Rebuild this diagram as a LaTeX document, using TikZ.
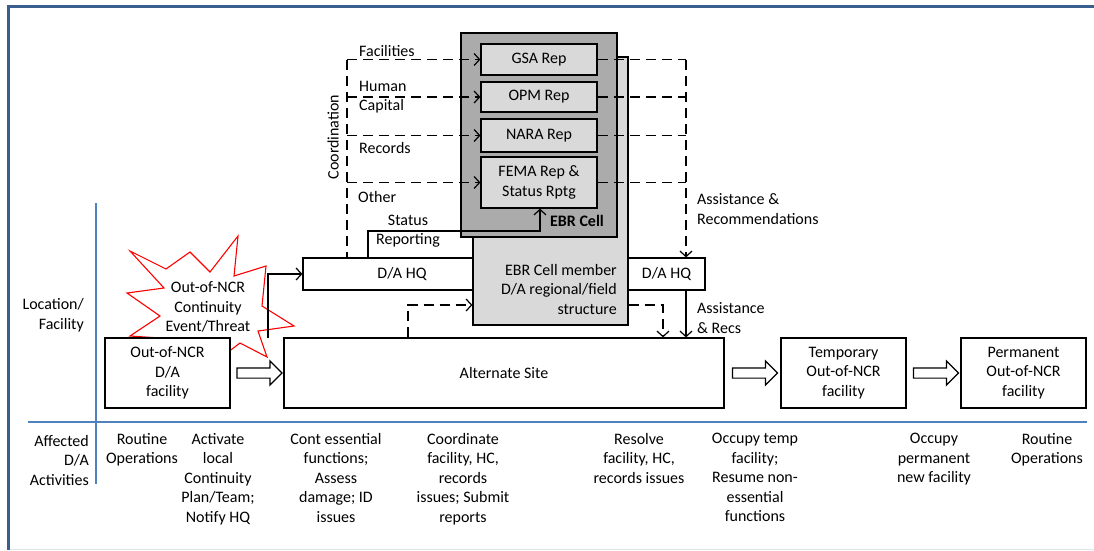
\documentclass[tikz,border=0pt]{standalone}
\usepackage{fontspec}
\setmainfont{Carlito}
\usetikzlibrary{arrows.meta,shapes.arrows,calc}

\definecolor{frameblue}{HTML}{3A5F8F}
\definecolor{lineblue}{HTML}{4F81BD}
\definecolor{cellgray}{HTML}{ABABAB}
\definecolor{repgray}{HTML}{D9D9D9}
\newcommand{\dia}{\fontsize{16}{19.5}\selectfont}

\tikzset{
  every node/.style={font=\dia},
  box/.style={draw, fill=white, line width=1.2pt, inner sep=0pt, align=center},
  repbox/.style={box, fill=repgray, minimum width=116pt},
  dashline/.style={line width=1.2pt, dash pattern=on 10pt off 6pt},
  tip/.style={-{Straight Barb[length=5.5pt,width=12pt,line width=1.2pt]}},
  blockarrow/.style={single arrow, draw, line width=1.2pt, fill=white,
    minimum height=45pt, inner sep=4.5pt, single arrow head extend=7pt},
  lbl/.style={inner sep=0pt, align=left},
  act/.style={inner sep=0pt, align=center, anchor=north},
}

\begin{document}
\begin{tikzpicture}[x=1pt, y=-1pt]
  \useasboundingbox (0,0) rectangle (1094,550);

  % frame and grid lines
  \draw[frameblue, line width=3pt] (7,6.5) -- (1094,6.5);
  \draw[frameblue, line width=3pt] (8.5,5) -- (8.5,550);
  \draw[black!10, line width=1pt] (10,549) -- (1094,549);
  \draw[lineblue, line width=1.2pt] (96,203) -- (96,484);
  \draw[lineblue, line width=1.2pt] (28,422) -- (1087,422);

  % row labels
  \node[lbl, align=right, anchor=east] (rowloc) at (84,315) {Location/\\Facility};
  \node[lbl, align=right, anchor=east] (rowact) at (89,460) {Affected\\D/A\\Activities};

  % event starburst
  \draw[red, line width=1.1pt, fill=white] (130,251) -- (166,269) -- (190,252)
    -- (210,272) -- (238,236) -- (234,276) -- (266,266) -- (262,306)
    -- (294,326) -- (258,331) -- (267,357) -- (240,343) -- (215,362)
    -- (190,340) -- (130,336) -- (160,316) -- (127,293) -- (164,288) -- cycle;
  \node[lbl, align=center] (event) at (208,307) {Out-of-NCR\\Continuity\\Event/Threat};

  % facilities
  \node[box, minimum width=125pt, minimum height=70pt] (fac) at (167.5,373) {Out-of-NCR\\D/A\\facility};
  \node[box, minimum width=440pt, minimum height=70pt] (alt) at (504,373) {Alternate Site};
  \node[box, minimum width=125pt, minimum height=70pt] (temp) at (843.5,373) {Temporary\\Out-of-NCR\\facility};
  \node[box, minimum width=125pt, minimum height=70pt] (perm) at (1023.5,373) {Permanent\\Out-of-NCR\\facility};

  \node[blockarrow] (ba1) at ($(fac.east)!0.5!(alt.west)$) {};
  \node[blockarrow] (ba2) at ($(alt.east)!0.5!(temp.west)$) {};
  \node[blockarrow] (ba3) at ($(temp.east)!0.5!(perm.west)$) {};

  % HQ and EBR cell
  \node[box, minimum width=198pt, minimum height=32pt] (hqL) at (402,274) {D/A HQ};
  \node[box, fill=repgray, minimum width=155pt, minimum height=268pt] (member) at (550.5,191) {};
  \node[lbl, align=right, anchor=east] (membertxt) at (617,289) {EBR Cell member\\D/A regional/field\\structure};
  \node[box, fill=cellgray, minimum width=156pt, minimum height=204pt] (ebr) at (539,135) {};
  \node[inner sep=0pt, font=\dia\bfseries] (ebrtxt) at (577,221) {EBR Cell};
  \node[repbox, minimum height=31pt] (gsa) at (539,59.5) {GSA Rep};
  \node[repbox, minimum height=30pt] (opm) at (539,97) {OPM Rep};
  \node[repbox, minimum height=33pt] (nara) at (539,135.5) {NARA Rep};
  \node[repbox, minimum height=51pt] (fema) at (539,182.5) {FEMA Rep \&\\Status Rptg};
  \node[box, minimum width=77pt, minimum height=32pt] (hqR) at (666.5,274) {D/A HQ};

  % coordination lines
  \coordinate (cl) at (347,0);
  \coordinate (cr) at (686,0);
  \draw[dashline] (gsa.west -| cl) -- (hqL.north -| cl);
  \foreach \r in {gsa,opm,nara,fema} {
    \draw[dashline, tip] (\r.west -| cl) -- (\r.west);
    \draw[dashline] (\r.east) -- (\r.east -| cr);
  }
  \draw[dashline, tip] (gsa.east -| cr) -- (hqR.north -| cr);
  \node[lbl, rotate=90] (coord) at (333,137) {Coordination};
  \node[lbl, anchor=west] (lfac) at (359,51) {Facilities};
  \node[lbl, anchor=west] (lhc) at (359,97) {Human\\Capital};
  \node[lbl, anchor=west] (lrec) at (359,148) {Records};
  \node[lbl, anchor=west] (loth) at (358,197) {Other};
  \node[lbl, anchor=west] (lassist) at (697,209) {Assistance \&\\Recommendations};

  % status reporting
  \coordinate (sr1) at (368,231);
  \coordinate (sr2) at (540,231);
  \draw[line width=1.2pt, tip] (hqL.north -| sr1) -- (sr1) -- (sr2) -- (fema.south -| sr2);
  \node[lbl, align=center] (lstat) at (408,231) {Status\\Reporting};

  % event notification
  \coordinate (ev) at (268,338);
  \draw[line width=1.2pt, tip] (ev) |- (hqL.west);

  % field structure links
  \coordinate (dl) at (408,305);
  \coordinate (dr) at (663,305);
  \draw[dashline, tip] (alt.north -| dl) -- (dl) -- (dl -| member.west);
  \draw[dashline, tip] (dr -| member.east) -- (dr) -- (alt.north -| dr);
  \draw[line width=1.2pt, tip] (hqR.south -| cr) -- (alt.north -| cr);
  \node[lbl, anchor=west] (lrecs) at (697,318) {Assistance\\\& Recs};

  % activities
  \node[act] (a1) at (142,433) {Routine\\Operations};
  \node[act] (a2) at (218,433) {Activate\\local\\Continuity\\Plan/Team;\\Notify HQ};
  \node[act] (a3) at (336,433) {Cont essential\\functions;\\Assess\\damage; ID\\issues};
  \node[act] (a4) at (463,433) {Coordinate\\facility, HC,\\records\\issues; Submit\\reports};
  \node[act] (a5) at (639,433) {Resolve\\facility, HC,\\records issues};
  \node[act] (a6) at (755,433) {Occupy temp\\facility;\\Resume non-\\essential\\functions};
  \node[act] (a7) at (934,433) {Occupy\\permanent\\new facility};
  \node[act] (a8) at (1047,433) {Routine\\Operations};
\end{tikzpicture}
\end{document}
